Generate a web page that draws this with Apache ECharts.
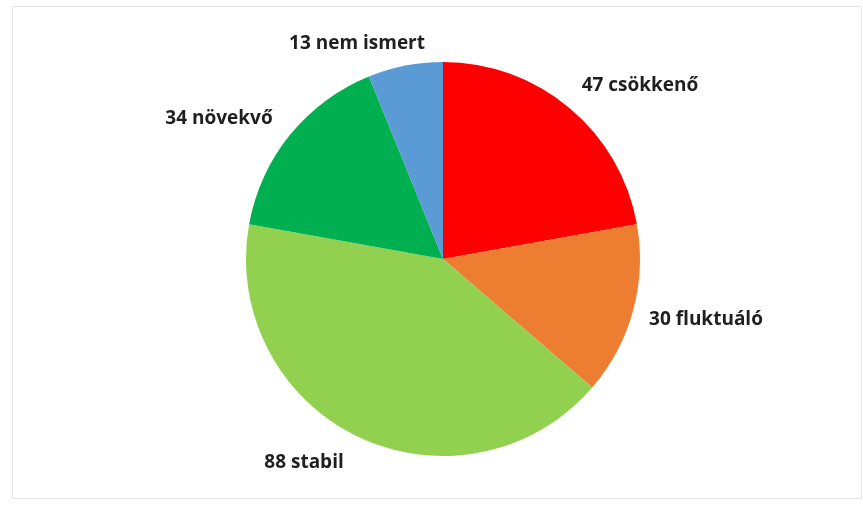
<!DOCTYPE html>
<html>
<head>
<meta charset="utf-8">
<script src="https://cdn.jsdelivr.net/npm/echarts@6/dist/echarts.min.js"></script>
<style>
  html, body { margin: 0; padding: 0; background: #fff; }
  #chart { width: 863px; height: 506px; }
</style>
</head>
<body>
<div id="chart"></div>
<script>
// clockwise from 12 o'clock
const categories = ['csökkenő', 'fluktuáló', 'stabil', 'növekvő', 'nem ismert']
const values = [47, 30, 88, 34, 13]
const colors = ['#ff0000', '#ed7d31', '#92d050', '#00b050', '#5b9bd5']

// label anchor points (text centre) in px
const labelPos = [
  [640, 86],
  [706, 320],
  [304, 463],
  [219, 119],
  [357, 44],
]

const chart = echarts.init(document.getElementById('chart'))

const option = {
  animation: false,
  graphic: [
    {
      type: 'rect',
      shape: { x: 12.5, y: 6.5, width: 849, height: 492 },
      style: { fill: 'none', stroke: '#e6e6e6', lineWidth: 1 },
      silent: true,
    },
  ],
  series: [
    {
      type: 'pie',
      center: [443, 259],
      radius: 197,
      startAngle: 90,
      clockwise: true,
      data: categories.map((name, i) => ({
        name,
        value: values[i],
        itemStyle: { color: colors[i] },
      })),
      itemStyle: { borderWidth: 0 },
      label: {
        show: true,
        position: 'outside',
        formatter: (p) => `${p.value} ${p.name}`,
        fontFamily: 'Open Sans',
        fontWeight: 'bold',
        fontSize: 19,
        color: '#1f1f1f',
      },
      labelLine: { show: false },
      labelLayout: (params) => ({
        x: labelPos[params.dataIndex][0],
        y: labelPos[params.dataIndex][1],
        align: 'center',
        verticalAlign: 'middle',
      }),
      emphasis: { disabled: true },
    },
  ],
}

chart.setOption(option)
</script>
</body>
</html>
